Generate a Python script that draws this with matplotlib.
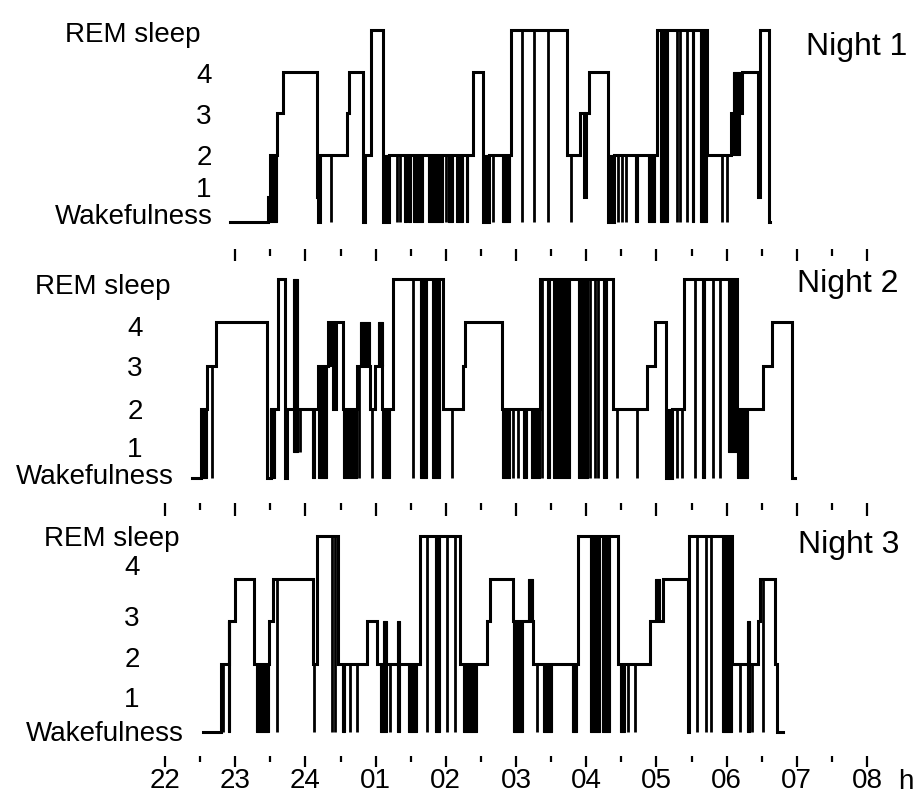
import numpy as np
import matplotlib
matplotlib.use('Agg')
from matplotlib import pyplot as plt

plt.rcParams['font.family'] = ['Liberation Sans', 'DejaVu Sans']

# stage codes: 0 = wakefulness, 1-4 = sleep stages, 5 = REM sleep
stage_names = ['Wakefulness', '1', '2', '3', '4', 'REM sleep']
hour_labels = ['22', '23', '24', '01', '02', '03', '04', '05', '06', '07', '08']
night_names = ['Night 1', 'Night 2', 'Night 3']

# time in hours after 22:00 at which a stage starts
n1_times = [0.93, 1.47, 1.50, 1.60, 1.68, 2.17, 2.18, 2.21, 2.59, 2.62, 2.82, 2.85, 2.93,
            3.11, 3.19, 4.39, 4.53, 4.62, 4.93, 5.73, 5.91, 5.97, 6.00, 6.04, 6.31, 6.40,
            7.01, 7.72, 8.06, 8.22, 8.45, 8.48, 8.60]
n1_stages = [0, 1, 2, 3, 4, 1, 0, 2, 3, 4, 0, 2, 5,
             0, 2, 4, 0, 2, 5, 2, 3, 1, 3, 4, 0, 2,
             5, 2, 3, 4, 1, 5, 0]
n1_end = 8.62
# short awakenings (time, lowest stage reached)
n1_spikes = [(2.37, 0), (3.31, 0), (3.35, 0), (4.00, 0), (4.67, 0), (5.09, 0), (5.26, 0),
             (5.46, 0), (5.78, 0), (6.45, 0), (6.51, 0), (6.57, 0), (7.29, 0), (7.34, 0),
             (7.44, 0), (7.93, 0), (8.01, 0)]
# periods of rapid switching (start, end, low stage, high stage)
n1_blocks = [(1.50, 1.60, 0, 2), (3.11, 3.19, 0, 2), (3.40, 3.45, 0, 2), (3.46, 3.50, 0, 2),
             (3.53, 3.68, 0, 2), (3.75, 3.96, 0, 2), (4.03, 4.10, 0, 2), (4.15, 4.25, 0, 2),
             (4.29, 4.32, 0, 2), (4.53, 4.62, 0, 2), (4.80, 4.92, 0, 2), (6.31, 6.40, 0, 2),
             (6.70, 6.74, 0, 2), (6.88, 6.98, 0, 2), (7.05, 7.17, 0, 5), (7.51, 7.53, 0, 5),
             (7.62, 7.72, 0, 5), (8.09, 8.19, 2, 4)]

n2_times = [0.39, 0.51, 0.60, 0.73, 1.45, 1.51, 1.61, 1.71, 1.74, 2.18, 2.32, 2.39, 2.44,
            2.54, 2.74, 2.92, 2.99, 3.09, 3.25, 3.96, 4.25, 4.27, 4.80, 5.34, 6.38, 6.87,
            6.98, 7.14, 7.22, 7.39, 8.15, 8.52, 8.65, 8.93]
n2_stages = [0, 2, 3, 4, 0, 2, 5, 0, 2, 3, 4, 2, 4,
             2, 3, 2, 3, 2, 5, 2, 3, 4, 2, 5, 2, 3,
             4, 0, 2, 5, 2, 3, 4, 0]
n2_end = 8.97
n2_spikes = [(0.67, 0), (1.92, 1), (2.76, 0), (2.95, 0), (3.53, 0), (4.09, 0), (4.96, 0),
             (5.03, 0), (5.37, 0), (6.06, 0), (6.12, 0), (6.17, 0), (6.44, 0), (6.72, 0),
             (7.29, 0), (7.37, 0), (7.55, 0), (7.81, 0), (7.91, 0)]
n2_blocks = [(0.51, 0.60, 0, 2), (1.50, 1.57, 0, 2), (1.82, 1.90, 1, 5), (2.09, 2.14, 0, 2),
             (2.18, 2.31, 0, 3), (2.32, 2.37, 3, 4), (2.54, 2.74, 0, 2), (2.78, 2.92, 3, 4),
             (3.03, 3.10, 3, 4), (3.09, 3.21, 0, 2), (3.63, 3.73, 0, 5), (3.80, 3.92, 0, 5),
             (4.80, 4.92, 0, 2), (5.10, 5.16, 0, 2), (5.21, 5.34, 0, 2), (5.44, 5.48, 0, 5),
             (5.53, 5.77, 0, 5), (5.88, 6.03, 0, 5), (6.24, 6.30, 0, 5), (7.14, 7.22, 0, 2),
             (7.65, 7.69, 0, 5), (8.02, 8.15, 1, 5), (8.15, 8.30, 0, 2)]

n3_times = [0.54, 0.80, 0.91, 1.00, 1.27, 1.48, 1.54, 2.11, 2.17, 2.46, 2.88, 3.02, 3.63,
            4.20, 4.59, 4.63, 4.96, 5.24, 5.88, 6.45, 6.91, 7.09, 7.45, 7.47, 8.08, 8.45,
            8.48, 8.69, 8.72]
n3_stages = [0, 2, 3, 4, 2, 3, 4, 2, 5, 2, 3, 2, 5,
             2, 3, 4, 3, 2, 5, 2, 3, 4, 0, 5, 2, 3,
             4, 2, 0]
n3_end = 8.80
n3_spikes = [(0.83, 0), (1.60, 0), (2.12, 0), (2.38, 0), (2.42, 0), (2.64, 0), (2.74, 0),
             (3.21, 0), (3.73, 0), (4.02, 0), (4.13, 0), (5.30, 0), (6.60, 0), (6.70, 0),
             (7.58, 0), (7.71, 0), (7.78, 0), (8.19, 0), (8.36, 0), (8.52, 0)]
n3_blocks = [(0.90, 0.93, 0, 3), (1.30, 1.48, 0, 2), (2.52, 2.56, 0, 2), (3.06, 3.16, 0, 2),
             (3.11, 3.16, 2, 3), (3.30, 3.35, 0, 3), (3.46, 3.59, 0, 2), (3.85, 3.92, 0, 5),
             (4.25, 4.44, 0, 2), (4.96, 5.10, 0, 3), (5.17, 5.24, 3, 4), (5.39, 5.51, 0, 2),
             (5.80, 5.87, 0, 2), (6.05, 6.20, 0, 5), (6.23, 6.34, 0, 5), (6.48, 6.55, 0, 2),
             (6.98, 7.05, 3, 4), (7.93, 8.08, 0, 5), (8.29, 8.33, 0, 3)]

nights = [(n1_times, n1_stages, n1_end, n1_spikes, n1_blocks),
          (n2_times, n2_stages, n2_end, n2_spikes, n2_blocks),
          (n3_times, n3_stages, n3_end, n3_spikes, n3_blocks)]

# drawing height of each stage (wake sits closer to stage 1)
level_y = [0, 0.6, 1.6, 2.6, 3.6, 4.6]

W, H = 922, 796
X0, X1 = 165, 867          # pixel x of 22 h and 08 h


def fx(x):
    return x / W


def fy(y):
    return 1 - y / H


def draw_night(ax, times, stages, end, spikes, blocks):
    ys = [level_y[s] for s in stages]
    ax.step(list(times) + [end], ys + [ys[-1]], where='post', color='k', lw=2.2,
            clip_on=False, solid_joinstyle='miter')
    for t, lo in spikes:
        cur = stages[np.searchsorted(times, t, side='right') - 1]
        ax.vlines(t, level_y[lo], level_y[cur], color='k', lw=2.0, clip_on=False)
    for t0, t1, lo, hi in blocks:
        ax.fill_between([t0, t1], level_y[lo], level_y[hi], color='k', lw=0.8,
                        edgecolor='k', clip_on=False)


fig = plt.figure(figsize=(W / 100, H / 100), dpi=100)

# pixel rows of REM line and wake line for each panel
panel_rows = [(30, 222), (279, 478), (536, 732)]
for (top, bot), night in zip(panel_rows, nights):
    ax = fig.add_axes([fx(X0), fy(bot), fx(X1) - fx(X0), (bot - top) / H])
    ax.set_xlim(0, 10)
    ax.set_ylim(0, 4.6)
    ax.axis('off')
    draw_night(ax, *night)

# stage labels, placed by hand as in the original drawing
label_pos = [
    [(134, 214), (204, 187), (204, 155), (204, 114), (204, 73), (133, 32)],
    [(95, 474), (135, 447), (135, 409), (135, 366), (135, 326), (103, 284)],
    [(105, 731), (132, 697), (132, 657), (132, 616), (132, 565), (112, 536)],
]
for pos in label_pos:
    for name, (x, y) in zip(stage_names, pos):
        fig.text(fx(x), fy(y + 10), name, ha='center', va='baseline', fontsize=20)

night_pos = [(806, 55), (797, 292), (798, 553)]
for name, (x, y) in zip(night_names, night_pos):
    fig.text(fx(x), fy(y), name, ha='left', va='baseline', fontsize=23)


# time scales between and below the panels
def tick_row(top_px, majors, minors, maj_len, min_len, labels=None):
    ax = fig.add_axes([fx(X0), fy(top_px), fx(X1) - fx(X0), 0.0001])
    ax.set_xlim(0, 10)
    ax.set_yticks([])
    for s in ax.spines.values():
        s.set_visible(False)
    ax.set_xticks(majors)
    ax.set_xticks(minors, minor=True)
    ax.tick_params(axis='x', which='major', direction='out', length=maj_len, width=1.6,
                   pad=1, labelsize=20)
    ax.tick_params(axis='x', which='minor', direction='out', length=min_len, width=1.6)
    if labels is None:
        ax.set_xticklabels([])
    else:
        ax.set_xticklabels(labels)
    return ax


tick_row(249, np.arange(1, 11), np.arange(1.5, 10, 1), 8.6, 5)
tick_row(503, np.arange(0, 11), np.arange(0.5, 10, 1), 9.5, 5)
tick_row(756, np.arange(0, 11), np.arange(0.5, 10, 1), 8, 4.3, hour_labels)
fig.text(fx(906), fy(789), 'h', ha='center', va='baseline', fontsize=20)

fig.savefig('out.png', dpi=100)
